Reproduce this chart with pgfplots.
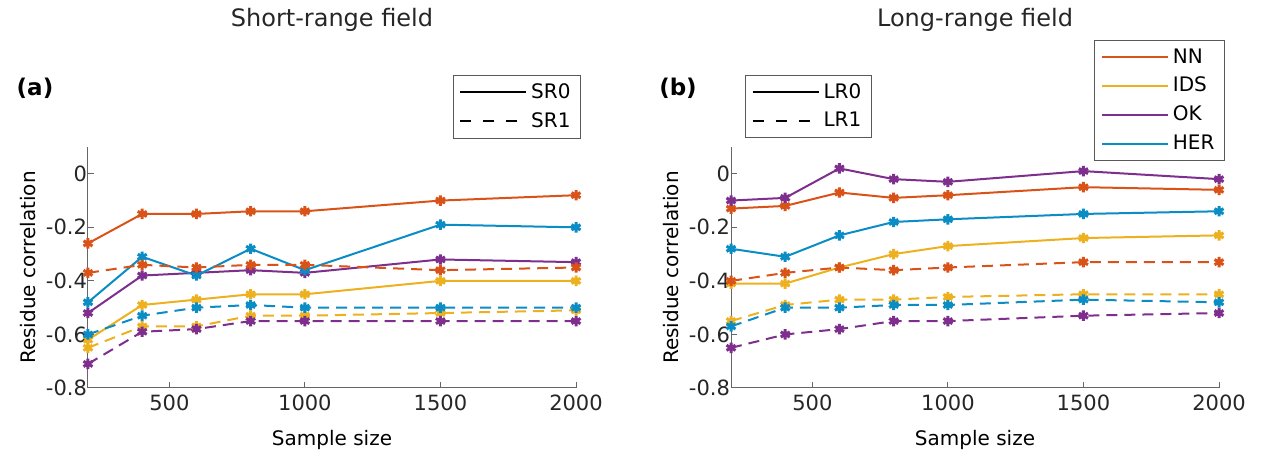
\documentclass[border=0pt]{standalone}
\usepackage{fontspec}
\setmainfont{DejaVu Sans}
\usepackage{pgfplots}
\pgfplotsset{compat=1.18}

\definecolor{cNN}{RGB}{217,83,25}
\definecolor{cIDS}{RGB}{237,177,32}
\definecolor{cOK}{RGB}{126,47,142}
\definecolor{cHER}{RGB}{10,140,196}
\definecolor{axgray}{RGB}{38,38,38}

\pgfplotsset{
  panel/.style={
    width=244pt, height=120.5pt, scale only axis,
    xmin=200, xmax=2000, ymin=-0.8, ymax=0.1,
    xtick={500,1000,1500,2000}, ytick={-0.8,-0.6,-0.4,-0.2,0},
    /pgf/number format/1000 sep={},
    axis lines=left, axis line style={-, draw=gray!80!black, line width=0.5pt},
    tick align=inside, major tick length=3pt,
    tick style={draw=gray!80!black, line width=0.5pt},
    tick label style={font=\fontsize{10.5}{12}\selectfont, text=axgray},
    yticklabel style={xshift=3pt},
    /pgf/number format/assume math mode=true,
    label style={font=\fontsize{11.5}{14}\selectfont, text=axgray},
    xlabel={Sample size}, ylabel={Residue correlation},
    every axis x label/.style={at={(axis description cs:0.5,-0.216)}, anchor=center},
    every axis y label/.style={at={(axis description cs:-0.123,0.5)}, anchor=center, rotate=90},
    clip=false,
    legend cell align=left,
    legend style={draw=gray!70!black, line width=0.5pt, font=\fontsize{10}{12}\selectfont,
      row sep=1.5pt, inner xsep=3pt, inner ysep=2pt},
    legend image code/.code={\draw[line width=1pt, #1] (0pt,0pt) -- (33pt,0pt);},
  },
  ln/.style={#1, line width=1pt, mark=asterisk, mark size=2.6pt,
    mark options={solid, line width=1.5pt}, forget plot},
  sr1/.style={dash pattern=on 5.5pt off 3.5pt},
}

\begin{document}
\begin{tikzpicture}
\path (0pt,0pt) rectangle (630.5pt,232pt);

% (a) Short-range field
\begin{axis}[panel, at={(44pt,38pt)}, anchor=south west,
  legend style={at={(1,1)}, anchor=north east, xshift=2.5pt, yshift=36pt}]
\addlegendimage{black}
\addlegendentry{SR0}
\addlegendimage{black, dash pattern=on 5.5pt off 6pt}
\addlegendentry{SR1}
% SR0
\addplot[ln=cNN] coordinates {(200,-0.26) (400,-0.15) (600,-0.15) (800,-0.14) (1000,-0.14) (1500,-0.10) (2000,-0.08)};
\addplot[ln=cIDS] coordinates {(200,-0.62) (400,-0.49) (600,-0.47) (800,-0.45) (1000,-0.45) (1500,-0.40) (2000,-0.40)};
\addplot[ln=cOK] coordinates {(200,-0.52) (400,-0.38) (600,-0.37) (800,-0.36) (1000,-0.37) (1500,-0.32) (2000,-0.33)};
\addplot[ln=cHER] coordinates {(200,-0.48) (400,-0.31) (600,-0.38) (800,-0.28) (1000,-0.36) (1500,-0.19) (2000,-0.20)};
% SR1
\addplot[ln=cNN, sr1] coordinates {(200,-0.37) (400,-0.34) (600,-0.35) (800,-0.34) (1000,-0.34) (1500,-0.36) (2000,-0.35)};
\addplot[ln=cIDS, sr1] coordinates {(200,-0.65) (400,-0.57) (600,-0.57) (800,-0.53) (1000,-0.53) (1500,-0.52) (2000,-0.51)};
\addplot[ln=cOK, sr1] coordinates {(200,-0.71) (400,-0.59) (600,-0.58) (800,-0.55) (1000,-0.55) (1500,-0.55) (2000,-0.55)};
\addplot[ln=cHER, sr1] coordinates {(200,-0.60) (400,-0.53) (600,-0.50) (800,-0.49) (1000,-0.50) (1500,-0.50) (2000,-0.50)};
\node[font=\fontsize{12}{14}\selectfont, text=axgray] at (rel axis cs:0.5,1) [yshift=63.5pt] {Short-range field};
\node[font=\bfseries\fontsize{11.5}{14}\selectfont] at (rel axis cs:0,1) [xshift=-26.5pt, yshift=29.5pt] {(a)};
\end{axis}

% (b) Long-range field
\begin{axis}[panel, at={(365.5pt,38pt)}, anchor=south west,
  legend style={at={(0,1)}, anchor=north west, xshift=7pt, yshift=36pt}]
\addlegendimage{black}
\addlegendentry{LR0}
\addlegendimage{black, dash pattern=on 5.5pt off 6pt}
\addlegendentry{LR1}
% LR0
\addplot[ln=cNN] coordinates {(200,-0.13) (400,-0.12) (600,-0.07) (800,-0.09) (1000,-0.08) (1500,-0.05) (2000,-0.06)};
\addplot[ln=cIDS] coordinates {(200,-0.41) (400,-0.41) (600,-0.35) (800,-0.30) (1000,-0.27) (1500,-0.24) (2000,-0.23)};
\addplot[ln=cOK] coordinates {(200,-0.10) (400,-0.09) (600,0.02) (800,-0.02) (1000,-0.03) (1500,0.01) (2000,-0.02)};
\addplot[ln=cHER] coordinates {(200,-0.28) (400,-0.31) (600,-0.23) (800,-0.18) (1000,-0.17) (1500,-0.15) (2000,-0.14)};
% LR1
\addplot[ln=cNN, sr1] coordinates {(200,-0.40) (400,-0.37) (600,-0.35) (800,-0.36) (1000,-0.35) (1500,-0.33) (2000,-0.33)};
\addplot[ln=cIDS, sr1] coordinates {(200,-0.55) (400,-0.49) (600,-0.47) (800,-0.47) (1000,-0.46) (1500,-0.45) (2000,-0.45)};
\addplot[ln=cOK, sr1] coordinates {(200,-0.65) (400,-0.60) (600,-0.58) (800,-0.55) (1000,-0.55) (1500,-0.53) (2000,-0.52)};
\addplot[ln=cHER, sr1] coordinates {(200,-0.57) (400,-0.50) (600,-0.50) (800,-0.49) (1000,-0.49) (1500,-0.47) (2000,-0.48)};
\node[font=\fontsize{12}{14}\selectfont, text=axgray] at (rel axis cs:0.5,1) [yshift=63.5pt] {Long-range field};
\node[font=\bfseries\fontsize{11.5}{14}\selectfont] at (rel axis cs:0,1) [xshift=-26.5pt, yshift=29.5pt] {(b)};
\end{axis}

% method colour legend for panel (b)
\begin{axis}[panel, at={(365.5pt,38pt)}, anchor=south west,
  axis line style={draw=none}, xtick=\empty, ytick=\empty, xlabel={}, ylabel={},
  legend style={at={(1,1)}, anchor=north east, xshift=3pt, yshift=53.5pt}]
\addlegendimage{cNN}
\addlegendentry{NN}
\addlegendimage{cIDS}
\addlegendentry{IDS}
\addlegendimage{cOK}
\addlegendentry{OK}
\addlegendimage{cHER}
\addlegendentry{HER}
\end{axis}
\end{tikzpicture}
\end{document}
